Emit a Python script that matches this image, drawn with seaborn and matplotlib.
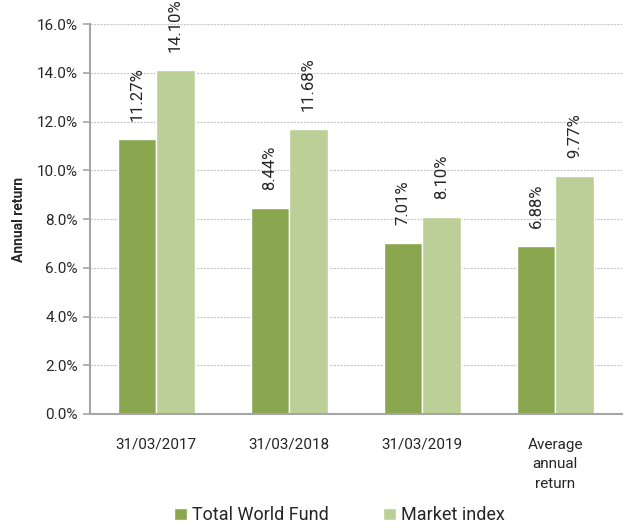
import seaborn as sns
import pandas as pd
from matplotlib import pyplot as plt
from matplotlib.ticker import FuncFormatter, FixedLocator

# data
periods = ["31/03/2017", "31/03/2018", "31/03/2019", "Average\nannual\nreturn"]
fund = [11.27, 8.44, 7.01, 6.88]
index = [14.10, 11.68, 8.10, 9.77]
series = ["Total World Fund", "Market index"]

df = pd.DataFrame({
    "period": periods * 2,
    "value": fund + index,
    "series": [series[0]] * 4 + [series[1]] * 4,
})

sns.set_style("white")
plt.rcParams['font.family'] = ['Roboto', 'DejaVu Sans']

fig = plt.figure(figsize=(6.28, 5.29), dpi=100)
ax = fig.add_axes([0.143, 0.2174, 0.847, 0.7372])

sns.barplot(data=df, x="period", y="value", hue="series",
            palette=["#8AA64E", "#BBCF96"], width=0.58, saturation=1,
            ax=ax, legend=True)

for cont in ax.containers:
    labels = [f"{v:.2f}%" for v in cont.datavalues]
    ax.bar_label(cont, labels=labels, rotation=90, padding=13, fontsize=12)

ax.set_ylim(0, 16)
ax.set_xlim(-0.5, 3.5)
ax.set_yticks([0, 2, 4, 6, 8, 10, 12, 14, 16])
ax.yaxis.set_major_formatter(FuncFormatter(lambda v, p: f"{v:.1f}%"))
ax.yaxis.grid(True, linestyle=(0, (2, 1)), color="#C8C8C8", linewidth=0.8)
ax.set_axisbelow(True)

ax.set_xlabel("")
ax.set_ylabel("Annual return", fontsize=10, fontweight="bold", labelpad=8)
ax.tick_params(axis="x", which="major", length=0, labelsize=11, pad=17)
for t in ax.get_xticklabels():
    t.set_linespacing(1.5)
ax.xaxis.set_minor_locator(FixedLocator([-0.5, 0.5, 1.5, 2.5, 3.5]))
ax.tick_params(axis="x", which="minor", length=5, color="#A6A6A6", width=1.2, direction="out")
ax.tick_params(axis="y", length=5, color="#A6A6A6", width=1.2, direction="out", labelsize=11, left=True)

for s in ["top", "right"]:
    ax.spines[s].set_visible(False)
for s in ["left", "bottom"]:
    ax.spines[s].set_color("#A6A6A6")
    ax.spines[s].set_linewidth(1.5)

leg = ax.legend(loc="lower center", bbox_to_anchor=(0.47, -0.325), ncol=2,
                frameon=False, fontsize=13, handlelength=0.7, handleheight=0.7,
                handletextpad=0.3, columnspacing=3.0)

fig.savefig("out.png", dpi=100)
